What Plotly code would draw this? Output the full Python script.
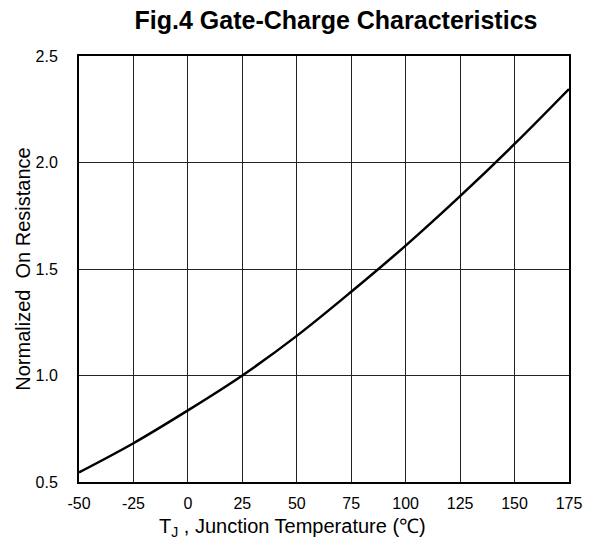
import plotly.graph_objects as go

# Junction temperature (°C) and normalized on-resistance
temp_c = [-50, -25, 0, 25, 50, 75, 100, 125, 150, 175]
r_norm = [0.545, 0.682, 0.836, 1.0, 1.186, 1.393, 1.610, 1.842, 2.087, 2.345]

x_ticks = [-50, -25, 0, 25, 50, 75, 100, 125, 150, 175]
y_ticks = [0.5, 1.0, 1.5, 2.0, 2.5]

FONT = "Liberation Sans, Arial, sans-serif"
W, H = 599, 543
ML, MR, MT, MB = 79, 30, 56, 61
plot_w, plot_h = W - ML - MR, H - MT - MB

fig = go.Figure()
fig.add_trace(go.Scatter(
    x=temp_c, y=r_norm, mode="lines",
    line=dict(color="black", width=2.5, shape="spline", smoothing=1.0),
    showlegend=False, hoverinfo="skip",
))

# x-axis caption placed as an annotation so it can sit left of centre
fig.add_annotation(
    text="T<sub>J</sub> , Junction Temperature (℃)",
    xref="paper", yref="paper",
    x=(292 - ML) / plot_w, y=-(527 - (H - MB)) / plot_h,
    xanchor="center", yanchor="middle", showarrow=False,
    font=dict(family=FONT, size=20, color="black"),
)

fig.update_layout(
    width=W, height=H,
    margin=dict(l=ML, r=MR, t=MT, b=MB),
    paper_bgcolor="white", plot_bgcolor="white",
    title=dict(text="<b>Fig.4 Gate-Charge Characteristics</b>",
               x=336 / W, xanchor="center", y=1 - 20 / H, yanchor="middle",
               font=dict(family=FONT, size=25, color="black")),
    xaxis=dict(range=[-50, 175], tickvals=x_ticks,
               ticktext=[str(v) for v in x_ticks],
               showgrid=True, gridcolor="#222", gridwidth=1.4,
               showline=True, linecolor="black", linewidth=2, mirror=True,
               zeroline=False, ticks="", ticklen=0, ticklabelstandoff=6,
               tickfont=dict(family=FONT, size=16, color="black")),
    yaxis=dict(range=[0.5, 2.5], tickvals=y_ticks,
               ticktext=["%.1f" % v for v in y_ticks],
               showgrid=True, gridcolor="#222", gridwidth=1.4,
               showline=True, linecolor="black", linewidth=2, mirror=True,
               zeroline=False, ticks="", ticklen=0, ticklabelstandoff=16,
               tickfont=dict(family=FONT, size=16, color="black"),
               title=dict(text="Normalized  On Resistance",
                          font=dict(family=FONT, size=20, color="black"),
                          standoff=0)),
)

fig.write_html("out.html")
